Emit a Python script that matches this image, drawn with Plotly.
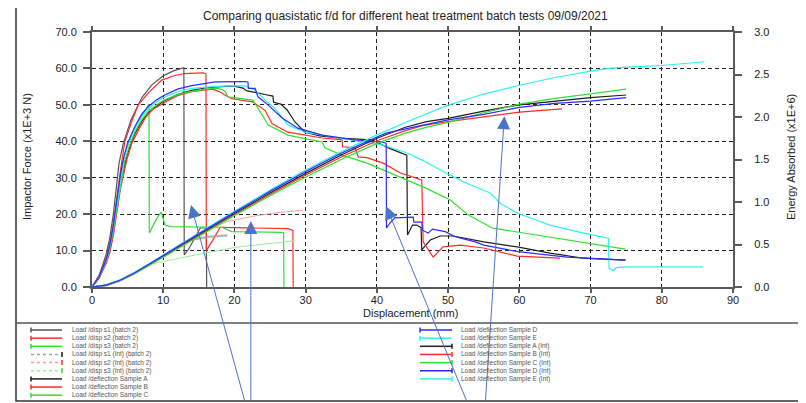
import plotly.graph_objects as go

# ---------------- DATA ----------------
# Force (x1E+3 N) vs displacement (mm) -- batch 2 samples
s1_x = [0, 1, 2, 2.5, 3, 3.5, 3.8, 4.4, 5.5, 7, 8.4, 10, 11.5, 12.9, 12.95, 13.6, 14.5, 15.2, 16.05, 16.1]
s1_y = [0, 3.2, 9, 13.5, 20, 28, 34, 39.5, 46, 52, 55.5, 58, 59.4, 60.2, 8.8, 10.5, 13.5, 16.2, 16.2, 0]
s2_x = [0, 1, 2, 2.5, 3, 3.5, 4, 4.6, 5.5, 6.5, 8, 9.8, 11.5, 13, 15.6, 16, 16.05, 17, 18, 20, 25, 27.5, 28.2, 28.25]
s2_y = [0, 3, 8, 12, 17.5, 25, 32, 39.9, 45, 50, 53.5, 56.8, 58, 58.6, 58.8, 58.5, 10, 13, 16.4, 16.3, 16.2, 16, 15.5, 0]
s3_x = [0, 1, 2, 2.5, 3, 3.5, 4, 4.6, 5.5, 6.5, 7.5, 8.0, 8.05, 9, 9.7, 10.25, 11, 16.8, 18, 18.5, 19.6, 26.5, 26.9, 26.95]
s3_y = [0, 2.7, 7.2, 11, 16.5, 23, 30.5, 36.5, 41.5, 45.5, 48.5, 50.2, 14.8, 18.5, 20.6, 17, 16.6, 16.6, 16.4, 16.2, 15.2, 15, 14.8, 0]

# Energy (x1E+6) -- batch 2 integrals
s1i_x = [0, 2, 4, 6, 8, 10, 12, 13, 14, 16.2, 19]
s1i_y = [0, 0.021, 0.08, 0.165, 0.262, 0.365, 0.468, 0.52, 0.555, 0.59, 0.607]
s2i_x = [0, 2, 4, 6, 8, 10, 12, 15, 16, 19, 22.9, 26, 29.6]
s2i_y = [0, 0.021, 0.08, 0.165, 0.262, 0.365, 0.468, 0.62, 0.664, 0.77, 0.836, 0.875, 0.904]
s3i_x = [0, 2, 4, 6, 8, 10, 15, 20, 22.9, 28.5]
s3i_y = [0, 0.021, 0.08, 0.165, 0.262, 0.3, 0.385, 0.465, 0.493, 0.544]

# Force -- samples A..E
a_x = [0, 1, 2, 2.5, 3, 3.5, 4, 4.7, 5.3, 6, 7, 8, 9.3, 10, 12, 14, 16, 18, 19.8, 21.2, 21.7, 24.6, 25.4, 25.5, 26.5, 27.4, 28.5, 29.9, 32, 34.6, 39.3, 41.6, 44.2, 44.3, 45, 45.6, 46.2, 46.3, 47.5, 48.9, 50.7, 55, 59.7, 64.3, 69, 74.9]
a_y = [0, 2.5, 6.8, 10, 15, 21, 28, 34.5, 38.5, 42, 45.5, 48, 50, 51, 52.8, 54, 54.7, 55, 55.2, 54.6, 53.9, 52.7, 52.4, 50.7, 50.2, 48.6, 45.3, 42.5, 41.5, 40.9, 40.4, 38.2, 36.2, 14.3, 17, 17, 16.3, 10.2, 12.9, 14, 14, 12.4, 11, 9.3, 7.9, 7.4]
b_x = [0, 1, 2, 2.5, 3, 3.5, 4, 4.9, 5.6, 6.5, 7.5, 8.5, 9.6, 10.5, 12, 14, 16, 17, 18, 19, 19.8, 22.6, 24.3, 25.3, 27.5, 32.3, 35.1, 35.2, 36.9, 37.4, 38.6, 40.9, 43.3, 46.3, 46.5, 47.9, 49.3, 51.7, 55, 59.7, 65.7]
b_y = [0, 2.4, 6.5, 9.5, 14.2, 20, 27, 35, 39.5, 43, 46.5, 48.7, 50, 51, 52.5, 53.6, 54.1, 54.3, 53.5, 52.3, 51.6, 50.8, 48.5, 44.8, 42.5, 40.9, 40.4, 38.5, 38.2, 35.7, 35.5, 34, 31.3, 29.4, 12.4, 8.2, 11, 11.5, 10.7, 8.5, 7.9]
c_x = [0, 1, 2, 2.5, 3, 3.5, 4, 4.6, 5.2, 6, 7, 8, 9.1, 10, 12, 14, 16, 17.5, 18.3, 18.7, 19.1, 22.6, 23.9, 24.7, 27.5, 32.3, 32.7, 35.1, 38.6, 43.3, 46.8, 50.3, 52.8, 56.2, 60.8, 70.2, 74.9]
c_y = [0, 2.6, 7, 10.5, 15.5, 21.5, 28.5, 34.5, 38.5, 42.5, 46, 48.4, 50, 51.2, 52.8, 53.7, 54.3, 54.6, 54.2, 53.6, 52.2, 51.3, 47.2, 44.5, 41.7, 39.8, 38.2, 36.2, 34, 30, 27.2, 23.9, 19.8, 16.2, 14.8, 12, 10.4]
d_x = [0, 1, 2, 2.5, 3, 3.5, 4, 4.5, 5, 6, 7, 8, 9, 10, 12, 14, 16, 17.3, 21.5, 21.9, 21.95, 22.9, 23.3, 24.7, 26.7, 28.9, 32.3, 36.9, 40.7, 41.3, 41.35, 41.8, 42.5, 45.1, 45.2, 46.3, 46.4, 47.2, 47.8, 49.6, 51, 53.8, 55, 59.8, 66.7, 74.9]
d_y = [0, 2.8, 7.5, 11.5, 17, 23.5, 31, 36, 39.5, 44, 47.5, 49.7, 51.3, 52.5, 54.3, 55.3, 55.9, 56.3, 56.4, 56.2, 54.5, 54.5, 52.2, 50, 46.4, 43.6, 41.7, 40.4, 39.8, 39.5, 16.2, 17.5, 19, 19.2, 17.8, 17.8, 15.6, 14.8, 15.9, 15.2, 13.8, 12.4, 11.5, 9.7, 8.2, 7.4]
e_x = [0, 1, 2, 2.5, 3, 3.5, 4, 4.5, 5, 6, 7, 8, 9, 10, 12, 14, 17, 19.8, 21.5, 22.9, 24.3, 25.7, 27.5, 29.9, 34.6, 38.3, 40.7, 44, 45.8, 46.5, 50.3, 52.6, 55.9, 57.3, 59.7, 64.3, 69, 72.5, 72.6, 73.2, 73.6, 75, 80, 85.8]
e_y = [0, 2.7, 7.2, 11, 16.3, 22.5, 30, 35.3, 39, 43.5, 46.8, 49, 50.7, 52, 53.6, 54.5, 55, 55.3, 55.2, 54, 51.3, 49, 44.5, 42.5, 40.9, 39.8, 39, 37, 35.4, 34.7, 30.7, 28.5, 25.8, 23, 20.3, 17, 14.8, 13.4, 5.2, 4.4, 5.3, 5.5, 5.5, 5.5]

# Energy (x1E+6) -- samples A..E (Int)
ai_x = [0, 2, 4, 6, 8, 10, 12, 15, 20, 25, 30, 35, 40, 44, 47, 50, 55, 60, 65, 70, 75]
ai_y = [0, 0.021, 0.08, 0.165, 0.262, 0.363, 0.465, 0.615, 0.862, 1.105, 1.337, 1.553, 1.75, 1.88, 1.946, 1.984, 2.07, 2.143, 2.19, 2.229, 2.259]
bi_x = [0, 2, 4, 6, 8, 10, 12, 15, 20, 25, 30, 35, 40, 44, 46.5, 50, 55, 60, 66]
bi_y = [0, 0.02, 0.078, 0.16, 0.255, 0.355, 0.455, 0.603, 0.85, 1.09, 1.318, 1.53, 1.72, 1.84, 1.9, 1.946, 2.005, 2.057, 2.096]
ci_x = [0, 2, 4, 6, 8, 10, 12, 15, 20, 25, 30, 35, 40, 44, 47, 50, 55, 60, 65, 70, 75]
ci_y = [0, 0.02, 0.077, 0.158, 0.252, 0.35, 0.45, 0.597, 0.84, 1.075, 1.295, 1.5, 1.69, 1.81, 1.88, 1.937, 2.05, 2.151, 2.22, 2.271, 2.327]
di_x = [0, 2, 4, 6, 8, 10, 12, 15, 20, 25, 30, 35, 40, 41.3, 44, 47, 50, 55, 60, 65, 70, 75]
di_y = [0, 0.022, 0.083, 0.168, 0.268, 0.372, 0.475, 0.627, 0.878, 1.125, 1.358, 1.573, 1.765, 1.81, 1.86, 1.91, 1.967, 2.03, 2.113, 2.16, 2.186, 2.229]
ei_x = [0, 2, 4, 6, 8, 10, 12, 15, 20, 25, 30, 35, 40, 45, 50, 55, 60, 65, 70, 72.6, 75, 80, 86]
ei_y = [0, 0.022, 0.085, 0.172, 0.273, 0.378, 0.482, 0.635, 0.89, 1.14, 1.375, 1.59, 1.79, 1.97, 2.14, 2.27, 2.374, 2.465, 2.54, 2.573, 2.586, 2.606, 2.65]

x_ticks = [0, 10, 20, 30, 40, 50, 60, 70, 80, 90]
y_ticks = [0, 10, 20, 30, 40, 50, 60, 70]
y2_ticks = [0, 0.5, 1.0, 1.5, 2.0, 2.5, 3.0]

legend_names = [
    "Load /disp s1 (batch 2)", "Load /disp s2 (batch 2)", "Load /disp s3 (batch 2)",
    "Load /disp s1 (Int) (batch 2)", "Load /disp s2 (Int) (batch 2)", "Load /disp s3 (Int) (batch 2)",
    "Load /deflection Sample A", "Load /deflection Sample B", "Load /deflection Sample C",
    "Load /deflection Sample D", "Load /deflection Sample E",
    "Load /deflection Sample A (Int)", "Load /deflection Sample B (Int)", "Load /deflection Sample C (Int)",
    "Load /deflection Sample D (Int)", "Load /deflection Sample E (Int)",
]

chart_title = "Comparing quasistatic f/d for different heat treatment batch tests 09/09/2021"

# ---------------- STYLE ----------------
BLACK = "#1e1e1e"
GRAY = "#555555"
RED = "#ff2b2b"
GREEN = "#2fe02f"
BLUE = "#2b2bff"
CYAN = "#2ff0f0"
LRED = "#ff9a9a"
LGREEN = "#9aee9a"
LGRAY = "#a0a0a0"
FONT = "Liberation Sans, Arial, sans-serif"

OFF = 8                      # page body margin of the html page
PL, PT = 92, 32              # plot area top-left in page pixels
PW, PH = 641, 255            # plot area size
W, H = 798, 395
L, T = PL - OFF, PT - OFF
R = W - L - PW
B = H - T - PH


def px2x(px):
    return (px - PL) / PW


def py2y(py):
    return (PT + PH - py) / PH


fig = go.Figure()


def add(x, y, color, width=1.2, axis="y", opacity=1.0):
    fig.add_trace(go.Scatter(x=x, y=y, mode="lines", yaxis=axis, opacity=opacity,
                             line=dict(color=color, width=width), showlegend=False,
                             hoverinfo="skip"))


# batch-2 integrals (light)
add(s1i_x, s1i_y, LGRAY, 2.2, "y2", 0.8)
add(s2i_x, s2i_y, LRED, 1.0, "y2")
add(s3i_x, s3i_y, LGREEN, 1.0, "y2")
# batch-2 force
add(s1_x, s1_y, GRAY)
add(s2_x, s2_y, RED)
add(s3_x, s3_y, GREEN)
# sample force
add(a_x, a_y, BLACK)
add(b_x, b_y, RED)
add(c_x, c_y, GREEN)
add(e_x, e_y, CYAN)
add(d_x, d_y, BLUE)
# sample energy
add(ai_x, ai_y, BLACK, axis="y2")
add(bi_x, bi_y, RED, axis="y2")
add(ci_x, ci_y, GREEN, axis="y2")
add(ei_x, ei_y, CYAN, axis="y2")
add(di_x, di_y, BLUE, axis="y2")

axis_common = dict(showline=True, linecolor="#5a5a5a", linewidth=2, ticks="outside",
                   tickwidth=1.5, tickcolor="#5a5a5a", zeroline=False,
                   tickfont=dict(family=FONT, size=11, color="#222"))

fig.update_layout(
    width=W, height=H, margin=dict(l=L, r=R, t=T, b=B),
    paper_bgcolor="white", plot_bgcolor="white", showlegend=False,
    xaxis=dict(range=[0, 90], tickvals=x_ticks, mirror="ticks", showgrid=True, ticklen=4,
               ticklabelstandoff=-2,
               gridcolor="#222", gridwidth=1, griddash="4px,3px", **axis_common),
    yaxis=dict(range=[0, 70], tickvals=y_ticks, tickformat=".1f", showgrid=True,
               ticklabelstandoff=4, ticklen=7,
               gridcolor="#222", gridwidth=1, griddash="4px,3px", **axis_common),
    yaxis2=dict(range=[0, 3], tickvals=y2_ticks, tickformat=".1f", overlaying="y", ticklen=7,
                side="right", showgrid=False, ticklabelstandoff=10, **axis_common),
)

ann = []
ann.append(dict(text=chart_title, x=px2x(405), y=py2y(16), xref="paper", yref="paper",
                showarrow=False, font=dict(family=FONT, size=12, color="#222"),
                xanchor="center", yanchor="middle"))
ann.append(dict(text="Displacement (mm)", x=px2x(410), y=py2y(313), xref="paper", yref="paper",
                showarrow=False, font=dict(family=FONT, size=11, color="#222"),
                xanchor="center", yanchor="middle"))
ann.append(dict(text="Impactor Force (x1E+3 N)", x=px2x(27), y=py2y(157), xref="paper",
                yref="paper", showarrow=False, textangle=-90,
                font=dict(family=FONT, size=11, color="#222"), xanchor="center", yanchor="middle"))
ann.append(dict(text="Energy Absorbed (x1E+6)", x=px2x(791), y=py2y(157), xref="paper",
                yref="paper", showarrow=False, textangle=-90,
                font=dict(family=FONT, size=11, color="#222"), xanchor="center", yanchor="middle"))

# callout arrows (tip in data coords, tail offset in px)
arrow_tip_x = [13.9, 22.3, 41.3, 57.9]
arrow_tip_y = [22.5, 18.1, 22.2, 46.9]
arrow_ax = [54, 0, 81, -19]
arrow_ay = [197, 181, 196, 286]
for tx, ty, axp, ayp in zip(arrow_tip_x, arrow_tip_y, arrow_ax, arrow_ay):
    ann.append(dict(x=tx, y=ty, xref="x", yref="y", ax=axp, ay=ayp, axref="pixel", ayref="pixel",
                    text="", showarrow=True, arrowhead=2, arrowsize=2.6, arrowwidth=1,
                    arrowcolor="#4a74c6", standoff=0))

shapes = []
# outer frame and legend divider
shapes.append(dict(type="rect", xref="paper", yref="paper", x0=px2x(16), x1=px2x(800),
                   y0=py2y(401), y1=py2y(4), line=dict(color="#333", width=1.5)))
shapes.append(dict(type="line", xref="paper", yref="paper", x0=px2x(16), x1=px2x(800),
                   y0=py2y(323), y1=py2y(323), line=dict(color="#555", width=1.5)))

leg_color = [GRAY, RED, GREEN, LGRAY, LRED, LGREEN, BLACK, RED, GREEN, BLUE, CYAN,
             BLACK, RED, GREEN, BLUE, CYAN]
leg_cap_color = [GRAY, RED, GREEN, BLACK, RED, GREEN, BLACK, RED, GREEN, BLUE, CYAN,
                 BLACK, RED, GREEN, BLUE, CYAN]
leg_dash = ["solid"] * 3 + ["dot"] * 3 + ["solid"] * 10
leg_cap_right = [False] * 3 + [True] * 3 + [False] * 5 + [True] * 5

for i, name in enumerate(legend_names):
    col = 0 if i < 9 else 1
    row = i if i < 9 else i - 9
    yy = 330 + row * 8.15
    x0, x1, xt = (31, 62, 70) if col == 0 else (420, 452, 459)
    shapes.append(dict(type="line", xref="paper", yref="paper", x0=px2x(x0), x1=px2x(x1),
                       y0=py2y(yy), y1=py2y(yy),
                       line=dict(color=leg_color[i], width=1.5, dash=leg_dash[i])))
    cx = x1 if leg_cap_right[i] else x0
    shapes.append(dict(type="line", xref="paper", yref="paper", x0=px2x(cx), x1=px2x(cx),
                       y0=py2y(yy - 2.5), y1=py2y(yy + 2.5),
                       line=dict(color=leg_cap_color[i], width=1.5)))
    ann.append(dict(text=name, x=px2x(xt), y=py2y(yy), xref="paper", yref="paper",
                    showarrow=False, xanchor="left", yanchor="middle",
                    font=dict(family=FONT, size=6.5, color="#555")))

fig.update_layout(annotations=ann, shapes=shapes)
fig.write_html("out.html")
